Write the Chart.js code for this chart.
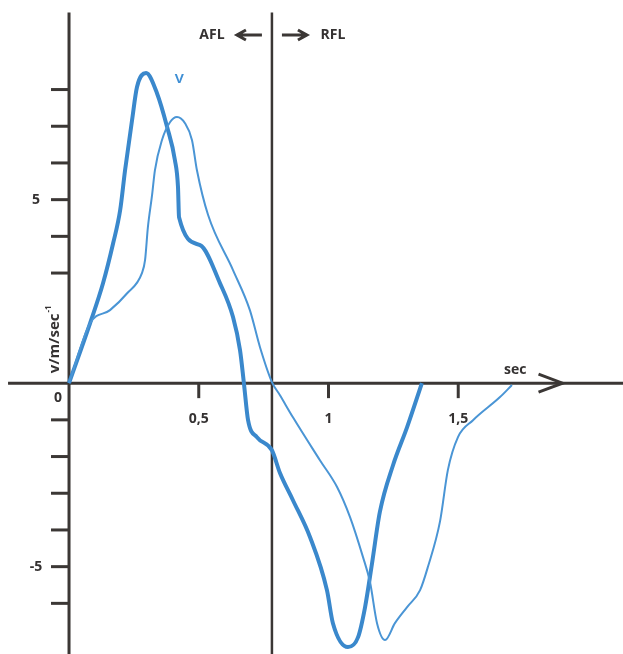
<!DOCTYPE html>
<html>
<head>
<meta charset="utf-8">
<script src="https://cdn.jsdelivr.net/npm/chart.js@4/dist/chart.umd.min.js"></script>
<style>
  html, body { margin: 0; padding: 0; background: #fff; }
  canvas { display: block; }
</style>
</head>
<body>
<canvas id="chart" width="623" height="654"></canvas>
<script>
// data (x in sec, y in m/sec)
const thickX = [0, 0.081, 0.131, 0.170, 0.197, 0.216, 0.243, 0.262, 0.297, 0.339, 0.378, 0.408, 0.420, 0.424, 0.505, 0.582, 0.632, 0.659, 0.674, 0.690, 0.724, 0.782, 0.813, 0.863, 0.929, 0.994, 1.017, 1.075, 1.114, 1.141, 1.168, 1.198, 1.249, 1.303, 1.360];
const thickY = [0, 1.63, 2.72, 3.81, 4.71, 5.80, 7.17, 8.07, 8.45, 7.90, 6.98, 6.08, 5.34, 4.52, 3.76, 2.72, 1.80, 0.90, 0, -1.01, -1.47, -1.83, -2.45, -3.19, -4.20, -5.64, -6.54, -7.19, -6.92, -6.10, -4.90, -3.51, -2.23, -1.20, 0];

const thinX = [0, 0.081, 0.158, 0.224, 0.281, 0.293, 0.304, 0.320, 0.331, 0.358, 0.389, 0.416, 0.447, 0.474, 0.493, 0.536, 0.632, 0.697, 0.736, 0.782, 0.813, 0.863, 0.967, 1.033, 1.083, 1.133, 1.160, 1.187, 1.218, 1.256, 1.303, 1.353, 1.383, 1.430, 1.460, 1.499, 1.557, 1.661, 1.707];
const thinY = [0, 1.63, 1.99, 2.45, 3.00, 3.35, 4.25, 5.12, 5.80, 6.62, 7.11, 7.25, 7.08, 6.62, 5.80, 4.58, 3.08, 1.99, 0.98, 0.03, -0.33, -0.93, -2.10, -2.83, -3.65, -4.74, -5.42, -6.54, -7.00, -6.54, -6.10, -5.64, -5.01, -3.76, -2.37, -1.47, -1.01, -0.38, -0.05];

const yTicks = [8, 7, 6, 5, 4, 3, -1, -2, -3, -4, -5, -6];
const yTickLabels = { "5": "5", "-5": "-5" };
const xTicks = [0.5, 1, 1.5];
const xTickLabels = ["0,5", "1", "1,5"];
const dividerX = 0.782;

const toPoints = (xs, ys) => xs.map((x, i) => ({ x: x, y: ys[i] }));

const axisColor = "#3b3735";
const textColor = "#353232";
const font = "bold 14px 'Open Sans', sans-serif";

// axes, ticks and labels drawn with the scales
const axesPlugin = {
  id: "axes",
  beforeDatasetsDraw(chart) {
    const ctx = chart.ctx;
    const xs = chart.scales.x, ys = chart.scales.y;
    const x0 = xs.getPixelForValue(0), y0 = ys.getPixelForValue(0);
    const top = ys.getPixelForValue(10.1);
    const bottom = chart.height;
    ctx.save();
    ctx.strokeStyle = axisColor;
    ctx.lineWidth = 3;
    ctx.beginPath();
    ctx.moveTo(x0, top); ctx.lineTo(x0, bottom);
    ctx.moveTo(xs.getPixelForValue(-0.235), y0); ctx.lineTo(chart.width, y0);
    ctx.stroke();

    // divider AFL / RFL
    ctx.lineWidth = 2.5;
    const xd = xs.getPixelForValue(dividerX);
    ctx.beginPath();
    ctx.moveTo(xd, top); ctx.lineTo(xd, bottom);
    ctx.stroke();

    // y ticks
    ctx.lineWidth = 3;
    yTicks.forEach((v) => {
      const p = ys.getPixelForValue(v);
      ctx.beginPath();
      ctx.moveTo(x0 - 18, p); ctx.lineTo(x0, p);
      ctx.stroke();
    });
    // x ticks
    xTicks.forEach((v) => {
      const p = xs.getPixelForValue(v);
      ctx.beginPath();
      ctx.moveTo(p, y0); ctx.lineTo(p, y0 + 15);
      ctx.stroke();
    });

    // arrow on x axis
    const ax = xs.getPixelForValue(1.902);
    ctx.lineWidth = 3;
    ctx.beginPath();
    ctx.moveTo(ax - 24, y0 - 9); ctx.lineTo(ax, y0); ctx.lineTo(ax - 24, y0 + 9);
    ctx.stroke();

    // AFL / RFL arrows
    const ay = 35;
    ctx.lineWidth = 3;
    ctx.beginPath();
    ctx.moveTo(xd - 10, ay); ctx.lineTo(xd - 33, ay);
    ctx.moveTo(xd - 26, ay - 5); ctx.lineTo(xd - 35, ay); ctx.lineTo(xd - 26, ay + 5);
    ctx.moveTo(xd + 10, ay); ctx.lineTo(xd + 33, ay);
    ctx.moveTo(xd + 26, ay - 5); ctx.lineTo(xd + 35, ay); ctx.lineTo(xd + 26, ay + 5);
    ctx.stroke();

    // text
    ctx.fillStyle = textColor;
    ctx.font = font;
    ctx.textAlign = "center";
    ctx.textBaseline = "middle";
    Object.keys(yTickLabels).forEach((k) => {
      ctx.fillText(yTickLabels[k], x0 - 33, ys.getPixelForValue(Number(k)));
    });
    ctx.fillText("0", x0 - 11, y0 + 15);
    xTicks.forEach((v, i) => {
      ctx.fillText(xTickLabels[i], xs.getPixelForValue(v), y0 + 36);
    });
    ctx.fillText("sec", xs.getPixelForValue(1.72), y0 - 13);
    ctx.fillText("AFL", xd - 60, ay);
    ctx.fillText("RFL", xd + 61, ay);

    // y axis title
    ctx.save();
    ctx.translate(x0 - 14, y0 - 10);
    ctx.rotate(-Math.PI / 2);
    ctx.textAlign = "left";
    ctx.font = "bold 15px 'Open Sans', sans-serif";
    ctx.fillText("v/m/sec", 0, 0);
    const w = ctx.measureText("v/m/sec").width;
    ctx.font = "bold 8px 'Open Sans', sans-serif";
    ctx.fillText("-1", w + 1, -6);
    ctx.restore();

    // curve label
    ctx.fillStyle = "#3f8fd4";
    ctx.font = "600 17px 'Open Sans', sans-serif";
    ctx.fillText("v", xs.getPixelForValue(0.425), ys.getPixelForValue(8.3));
    ctx.restore();
  }
};

new Chart(document.getElementById("chart"), {
  type: "scatter",
  data: {
    datasets: [
      {
        label: "thin",
        data: toPoints(thinX, thinY),
        showLine: true,
        borderColor: "#4a95d5",
        borderWidth: 2,
        pointRadius: 0,
        cubicInterpolationMode: "monotone"
      },
      {
        label: "thick",
        data: toPoints(thickX, thickY),
        showLine: true,
        borderColor: "#3a88cc",
        borderWidth: 4,
        pointRadius: 0,
        cubicInterpolationMode: "monotone"
      }
    ]
  },
  options: {
    responsive: false,
    animation: false,
    layout: { padding: 0 },
    plugins: { legend: { display: false }, tooltip: { enabled: false } },
    scales: {
      x: { type: "linear", min: -0.266, max: 2.135, display: false },
      y: { type: "linear", min: -7.38, max: 10.44, display: false }
    }
  },
  plugins: [axesPlugin]
});
</script>
</body>
</html>
